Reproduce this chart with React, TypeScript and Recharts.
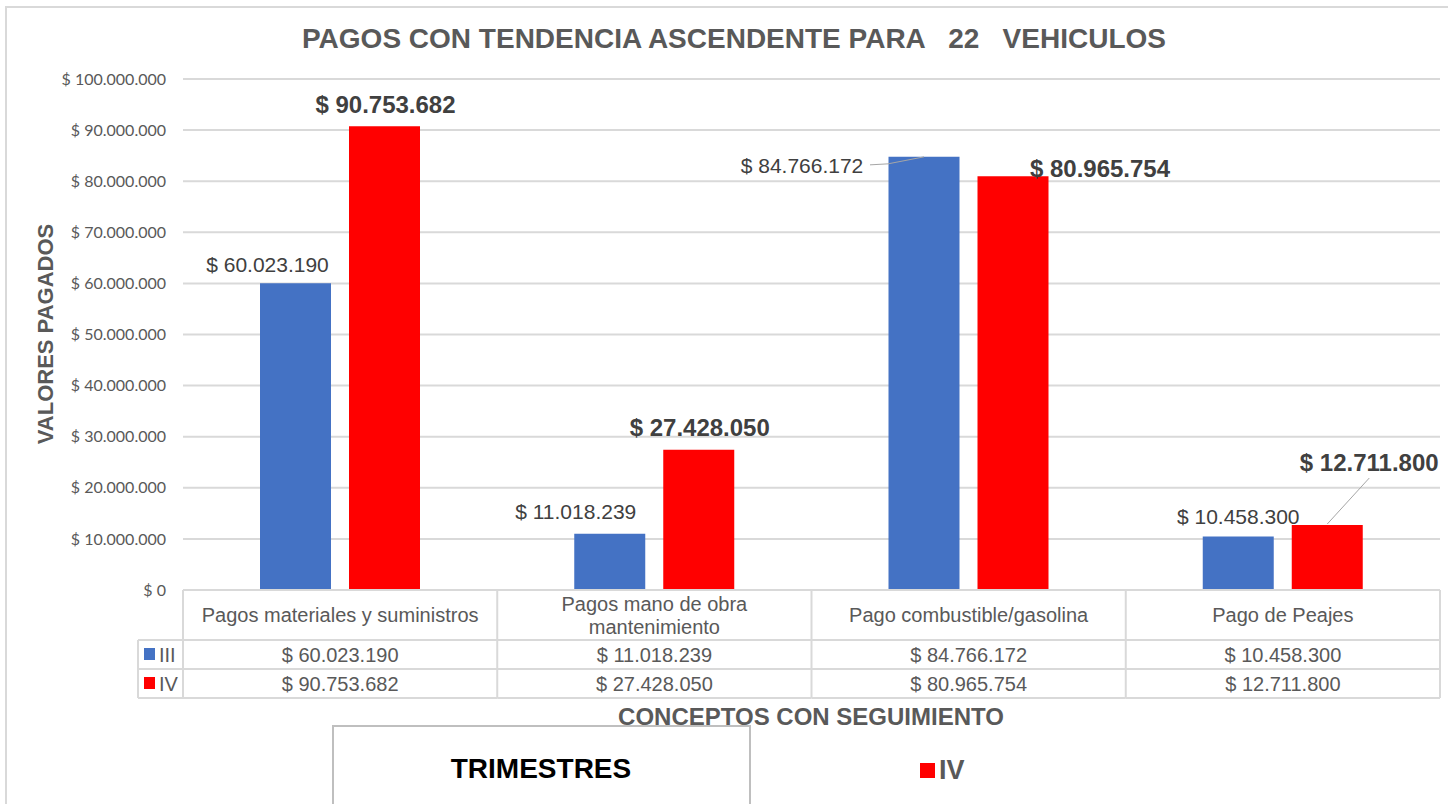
import React from 'react';
import { BarChart, Bar, XAxis, YAxis, CartesianGrid, LabelList } from 'recharts';

const categories = [
  'Pagos materiales y suministros',
  'Pagos mano de obra mantenimiento',
  'Pago combustible/gasolina',
  'Pago de Peajes',
];
const seriesNames = ['III', 'IV'];
const valuesIII = [60023190, 11018239, 84766172, 10458300];
const valuesIV = [90753682, 27428050, 80965754, 12711800];
const yTicks = [0, 10000000, 20000000, 30000000, 40000000, 50000000, 60000000, 70000000, 80000000, 90000000, 100000000];

const data = categories.map((name, i) => ({ name, III: valuesIII[i], IV: valuesIV[i] }));

// layout
const W = 1448;
const H = 804;
const PLOT_LEFT = 183;
const PLOT_RIGHT = 1440;
const PLOT_TOP = 79;
const PLOT_BOTTOM = 590;
const BAND = (PLOT_RIGHT - PLOT_LEFT) / categories.length;
const ARIAL = '"Liberation Sans", Arial, sans-serif';
const BLUE = '#4472C4';
const RED = '#FF0000';
const LINE = '#d9d9d9';

// label placement per bar (offset of the text centre from bar top centre)
const posIII = [
  { dx: -28, dy: -19 },
  { dx: -34, dy: -22 },
  { dx: -122, dy: 9, leader: [[-54, 8], [-36, 7], [0, 0]] },
  { dx: 0, dy: -20 },
];
const posIV = [
  { dx: 1, dy: -22 },
  { dx: 1, dy: -22 },
  { dx: 87, dy: -8 },
  { dx: 42, dy: -63, leader: [[42, -47], [0, -1]] },
];

const fmt = (v: number) => '$ ' + String(v).replace(/\B(?=(\d{3})+(?!\d))/g, '.');

function wrap(text: string, max = 31) {
  const out: string[] = [];
  let cur = '';
  text.split(' ').forEach((w) => {
    const next = cur ? cur + ' ' + w : w;
    if (next.length > max && cur) {
      out.push(cur);
      cur = w;
    } else cur = next;
  });
  if (cur) out.push(cur);
  return out;
}

function makeLabel(pos: any[], bold: boolean) {
  return (props: any) => {
    const { x, y, width, index, value } = props;
    const p = pos[index];
    const cx = x + width / 2;
    return (
      <g>
        {p.leader && (
          <polyline
            points={p.leader.map((pt: number[]) => `${cx + pt[0]},${y + pt[1]}`).join(' ')}
            fill="none"
            stroke="#a6a6a6"
            strokeWidth={1}
          />
        )}
        <text
          x={cx + p.dx}
          y={y + p.dy}
          textAnchor="middle"
          dominantBaseline="central"
          fontFamily={ARIAL}
          fontSize={bold ? 24 : 21}
          fontWeight={bold ? 700 : 400}
          fill="#404040"
        >
          {fmt(value)}
        </text>
      </g>
    );
  };
}

function TableTick(props: any) {
  const { x, payload } = props;
  const i = categories.indexOf(payload.value);
  const top = PLOT_BOTTOM;
  const left = x - BAND / 2;
  const right = x + BAND / 2;
  const lines = wrap(payload.value);
  const r1 = top + 50;
  const r2 = r1 + 29;
  const r3 = r2 + 29;
  const txt = { fontFamily: ARIAL, fontSize: 20, fill: '#595959', textAnchor: 'middle' as const, dominantBaseline: 'central' as const };
  const legLeft = left - 45;
  return (
    <g>
      <line x1={left} x2={right} y1={top} y2={top} stroke={LINE} strokeWidth={2} />
      <line x1={i === 0 ? legLeft : left} x2={right} y1={r1} y2={r1} stroke={LINE} strokeWidth={2} />
      <line x1={i === 0 ? legLeft : left} x2={right} y1={r2} y2={r2} stroke={LINE} strokeWidth={2} />
      <line x1={i === 0 ? legLeft : left} x2={right} y1={r3} y2={r3} stroke={LINE} strokeWidth={2} />
      <line x1={right} x2={right} y1={top} y2={r3} stroke={LINE} strokeWidth={2} />
      {i === 0 && (
        <g>
          <line x1={left} x2={left} y1={top} y2={r3} stroke={LINE} strokeWidth={2} />
          <line x1={legLeft} x2={legLeft} y1={r1} y2={r3} stroke={LINE} strokeWidth={2} />
          <rect x={legLeft + 6} y={r1 + 8} width={11} height={12} fill={BLUE} />
          <text x={legLeft + 21} y={(r1 + r2) / 2} fontFamily={ARIAL} fontSize={20} fill="#595959" dominantBaseline="central">
            {seriesNames[0]}
          </text>
          <rect x={legLeft + 6} y={r2 + 8} width={11} height={12} fill={RED} />
          <text x={legLeft + 21} y={(r2 + r3) / 2} fontFamily={ARIAL} fontSize={20} fill="#595959" dominantBaseline="central">
            {seriesNames[1]}
          </text>
        </g>
      )}
      {lines.map((l, k) => (
        <text key={k} x={x} y={top + 25 + (k - (lines.length - 1) / 2) * 23} {...txt}>
          {l}
        </text>
      ))}
      <text x={x} y={(r1 + r2) / 2} {...txt}>{fmt(valuesIII[i])}</text>
      <text x={x} y={(r2 + r3) / 2} {...txt}>{fmt(valuesIV[i])}</text>
    </g>
  );
}

export default function App() {
  return (
    <div style={{ position: 'relative', width: W, height: H, background: '#fff', overflow: 'hidden' }}>
      <style>{`body{margin:0}`}</style>
      <BarChart
        width={W}
        height={H}
        data={data}
        margin={{ top: PLOT_TOP, right: W - PLOT_RIGHT, bottom: 0, left: 0 }}
        barSize={71}
        barGap={18}
      >
        <CartesianGrid vertical={false} stroke={LINE} strokeWidth={2} />
        <YAxis
          width={PLOT_LEFT}
          domain={[0, 100000000]}
          ticks={yTicks}
          axisLine={false}
          tickLine={false}
          tickSize={0}
          tickMargin={17}
          tickFormatter={fmt}
          tick={{ fontSize: 16, fill: '#595959', fontFamily: 'Lato, sans-serif' }}
        />
        <XAxis
          dataKey="name"
          height={H - PLOT_BOTTOM}
          axisLine={false}
          tickLine={false}
          tickSize={0}
          tickMargin={0}
          interval={0}
          tick={<TableTick />}
        />
        <Bar dataKey="III" fill={BLUE} isAnimationActive={false}>
          <LabelList dataKey="III" content={makeLabel(posIII, false)} />
        </Bar>
        <Bar dataKey="IV" fill={RED} isAnimationActive={false}>
          <LabelList dataKey="IV" content={makeLabel(posIV, true)} />
        </Bar>
      </BarChart>
      <svg width={W} height={H} style={{ position: 'absolute', left: 0, top: 0, pointerEvents: 'none' }}>
        <rect x={6} y={7} width={W + 20} height={H + 20} fill="none" stroke={LINE} strokeWidth={2} />
        <text
          x={734}
          y={38}
          textAnchor="middle"
          dominantBaseline="central"
          fontFamily={ARIAL}
          fontSize={28}
          fontWeight={700}
          fill="#595959"
          style={{ whiteSpace: 'pre' }}
        >
          {'PAGOS CON TENDENCIA ASCENDENTE PARA   22   VEHICULOS'}
        </text>
        <text
          x={0}
          y={0}
          transform="translate(45 334) rotate(-90)"
          textAnchor="middle"
          dominantBaseline="central"
          fontFamily={ARIAL}
          fontSize={22}
          fontWeight={700}
          fill="#595959"
        >
          VALORES PAGADOS
        </text>
        <text x={811} y={716} textAnchor="middle" dominantBaseline="central" fontFamily={ARIAL} fontSize={24} fontWeight={700} fill="#595959">
          CONCEPTOS CON SEGUIMIENTO
        </text>
        <rect x={333} y={726} width={417} height={120} fill="none" stroke="#bfbfbf" strokeWidth={2} />
        <text x={541} y={768} textAnchor="middle" dominantBaseline="central" fontFamily={ARIAL} fontSize={28} fontWeight={700} fill="#000">
          TRIMESTRES
        </text>
        <rect x={920} y={763} width={15} height={15} fill={RED} />
        <text x={939} y={770} dominantBaseline="central" fontFamily={ARIAL} fontSize={27} fontWeight={700} fill="#595959">
          {seriesNames[1]}
        </text>
      </svg>
    </div>
  );
}
